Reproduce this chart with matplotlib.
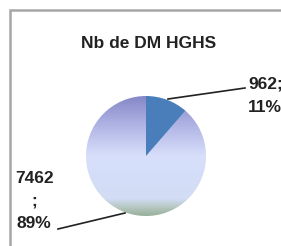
import numpy as np
import matplotlib
matplotlib.use("Agg")
import matplotlib.pyplot as plt
from matplotlib.colors import LinearSegmentedColormap

title = "Nb de DM HGHS"
values = [962, 7462]
pcts = [11, 89]

W, H = 281, 246
fig = plt.figure(figsize=(W / 100, H / 100), dpi=100)
ax = fig.add_axes([0, 0, 1, 1])

cx, cy, r = 146, H - 156, 60
wedges, _ = ax.pie(values, center=(cx, cy), radius=r, startangle=90,
                   counterclock=False, colors=["#4a7ebb", "none"], frame=True)
wedges[0].set_zorder(3)

# vertical gradient for the big slice, drawn as thin strips clipped to it
grad = LinearSegmentedColormap.from_list(
    "g", [(0.0, "#98b09c"), (0.06, "#b2c4bc"), (0.14, "#d2dcf4"),
          (0.5, "#d6defa"), (0.75, "#b0b4e4"), (1.0, "#8486c6")])
ys = np.arange(cy - r, cy + r, 1.0)
bars = ax.barh(ys, 2 * r, height=1.2, left=cx - r, align="edge",
               color=grad((ys - (cy - r)) / (2 * r)), linewidth=0, zorder=2)
for b in bars:
    b.set_clip_path(wedges[1])

ax.set_xlim(0, W)
ax.set_ylim(0, H)
ax.axis("off")

# chart frame (cropped on right and bottom)
ax.plot([9.5, 9.5, W + 5], [-5, H - 9.5, H - 9.5], color="#a6a6a6",
        lw=1.8, solid_joinstyle="miter")

font = "Liberation Sans"
ax.text(149, H - 43, title, ha="center", va="center", fontsize=12.5,
        fontweight="bold", family=font, color="#222222")

# leader lines and labels
ax.plot([168, 245], [H - 99, H - 88], color="#222222", lw=1.2)
ax.text(248, H - 96, f"{values[0]};\n{pcts[0]}%", ha="left", va="center",
        fontsize=12.5, fontweight="bold", family=font, color="#222222",
        linespacing=1.7)
ax.plot([58, 125], [H - 229, H - 213], color="#222222", lw=1.2)
ax.text(15, H - 201, f"{values[1]}\n;\n{pcts[1]}%", ha="left", va="center",
        fontsize=12.5, fontweight="bold", family=font, color="#222222",
        linespacing=1.66, multialignment="center")

fig.savefig("out.png", dpi=100)
